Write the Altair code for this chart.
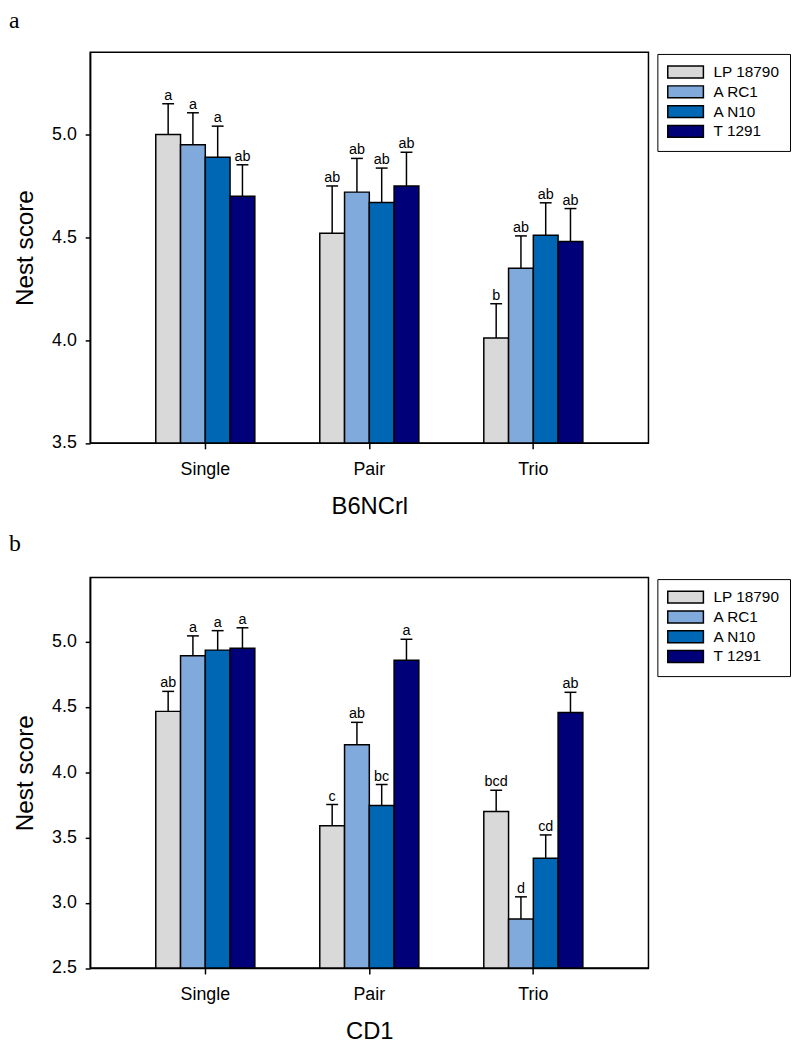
import altair as alt
import pandas as pd

groups = ["Single", "Pair", "Trio"]
strains = ["LP 18790", "A RC1", "A N10", "T 1291"]
strain_colors = ["#D9D9D9", "#80A9DC", "#0067B4", "#000078"]

# Panel a: B6NCrl
b6_mean = [5.00, 4.95, 4.89, 4.70,
           4.52, 4.72, 4.67, 4.75,
           4.01, 4.35, 4.51, 4.48]
b6_err = [0.15, 0.156, 0.151, 0.153,
          0.23, 0.164, 0.167, 0.164,
          0.167, 0.157, 0.158, 0.16]
b6_sig = ["a", "a", "a", "ab",
          "ab", "ab", "ab", "ab",
          "b", "ab", "ab", "ab"]

# Panel b: CD1
cd1_mean = [4.465, 4.89, 4.934, 4.949,
            3.589, 4.21, 3.745, 4.857,
            3.699, 2.875, 3.341, 4.456]
cd1_err = [0.153, 0.153, 0.149, 0.156,
           0.163, 0.171, 0.16, 0.16,
           0.162, 0.17, 0.178, 0.155]
cd1_sig = ["ab", "a", "a", "a",
           "c", "ab", "bc", "a",
           "bcd", "d", "cd", "ab"]

b6_domain = [3.5, 5.4]
b6_ticks = [3.5, 4.0, 4.5, 5.0]
cd1_domain = [2.5, 5.49]
cd1_ticks = [2.5, 3.0, 3.5, 4.0, 4.5, 5.0]

SANS = "Liberation Sans"
SERIF = "Liberation Serif"


def make_panel(mean, err, sig, y_domain, y_ticks, x_title, letter, letter_y):
    df = pd.DataFrame({
        "group": [g for g in groups for _ in strains],
        "strain": strains * len(groups),
        "mean": mean,
        "upper": [m + e for m, e in zip(mean, err)],
        "sig": sig,
    })
    base = alt.Chart(df)
    x_enc = alt.X(
        "group:N", sort=groups,
        scale=alt.Scale(paddingInner=0.396, paddingOuter=0.4),
        axis=alt.Axis(title=x_title, labelAngle=0, tickSize=6, labelPadding=12,
                      titlePadding=16, labelFontSize=18, titleFontSize=24),
    )
    xo_enc = alt.XOffset("strain:N", sort=strains,
                         scale=alt.Scale(paddingInner=0, paddingOuter=0))
    y_scale = alt.Scale(domain=y_domain, zero=False, nice=False)
    y_axis = alt.Axis(title="Nest score", values=y_ticks, format=".1f", tickSize=5,
                      labelPadding=9, titlePadding=14, labelFontSize=18,
                      titleFontSize=24.5)

    bars = base.mark_bar(stroke="black", strokeWidth=1.5).encode(
        x=x_enc,
        xOffset=xo_enc,
        y=alt.Y("mean:Q", scale=y_scale, axis=y_axis),
        y2=alt.datum(y_domain[0]),
        color=alt.Color(
            "strain:N", sort=strains,
            scale=alt.Scale(domain=strains, range=strain_colors),
            legend=alt.Legend(
                title=None, orient="none", legendX=573, legendY=1.6,
                strokeColor="black", fillColor="white", padding=10.5,
                symbolType="M-3,-1H3V1H-3Z", symbolSize=144,
                symbolStrokeColor="black", symbolStrokeWidth=1.5,
                symbolOffset=10.25, labelOffset=20.5, symbolOpacity=1,
                labelFont=SANS, labelFontSize=15.5, labelColor="black",
                rowPadding=1,
            ),
        ),
    )
    rules = base.mark_rule(color="black", strokeWidth=1.5).encode(
        x=x_enc, xOffset=xo_enc,
        y=alt.Y("mean:Q", scale=y_scale, axis=y_axis),
        y2="upper:Q",
    )
    caps = base.mark_tick(color="black", thickness=1.5, size=12,
                          orient="horizontal", opacity=1).encode(
        x=x_enc, xOffset=xo_enc,
        y=alt.Y("upper:Q", scale=y_scale, axis=y_axis),
    )
    labels = base.mark_text(font=SANS, fontSize=14.5, baseline="alphabetic",
                            dy=-4, color="black").encode(
        x=x_enc, xOffset=xo_enc,
        y=alt.Y("upper:Q", scale=y_scale, axis=y_axis),
        text="sig:N",
    )
    panel_letter = alt.Chart(pd.DataFrame({"letter": [letter]})).mark_text(
        font=SERIF, fontSize=24, align="left", baseline="alphabetic", color="black"
    ).encode(text="letter:N", x=alt.value(-82), y=alt.value(letter_y))
    return alt.layer(bars, rules, caps, labels, panel_letter).properties(
        width=564, height=394.5,
    )


top = make_panel(b6_mean, b6_err, b6_sig, b6_domain, b6_ticks, "B6NCrl", "a", -24.2)
bottom = make_panel(cd1_mean, cd1_err, cd1_sig, cd1_domain, cd1_ticks, "CD1", "b", -27)

chart = (
    alt.vconcat(top, bottom, spacing=11.5)
    .resolve_legend(color="independent")
    .configure_view(stroke="black", strokeWidth=1.5)
    .configure_axis(
        domainColor="black", domainWidth=1.5, tickColor="black", tickWidth=1.5,
        labelColor="black", titleColor="black", labelFont=SANS, titleFont=SANS,
        titleFontWeight="normal", grid=False,
    )
    .properties(padding={"left": 0, "top": -4.5, "right": 0, "bottom": 0},
                background="white")
)

chart.save("out.html", embed_options={"renderer": "svg", "actions": False})
